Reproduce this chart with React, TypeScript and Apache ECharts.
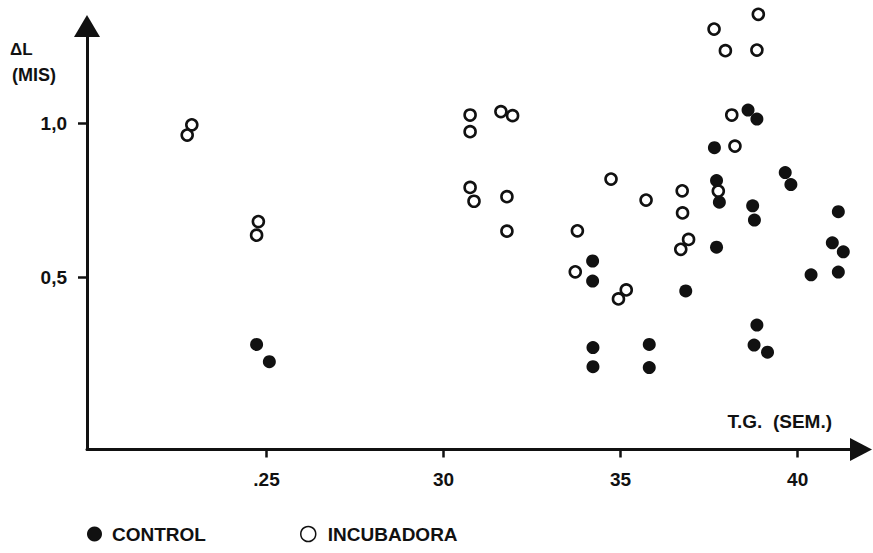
import React, { useEffect, useRef } from "react";
import * as echarts from "echarts";

// Gestational age (weeks) vs ΔL (mm/s)
const controlPoints: [number, number][] = [
  [24.72, 0.281], [25.08, 0.225],
  [34.21, 0.552], [34.21, 0.487], [34.22, 0.271], [34.22, 0.209],
  [35.81, 0.281], [35.81, 0.206],
  [36.84, 0.455],
  [37.65, 0.92], [37.71, 0.813], [37.79, 0.743], [37.71, 0.597],
  [38.6, 1.042], [38.85, 1.013], [38.73, 0.731], [38.78, 0.685],
  [38.85, 0.344], [38.77, 0.279], [39.15, 0.256],
  [39.65, 0.839], [39.81, 0.8],
  [40.38, 0.507],
  [41.15, 0.712], [40.98, 0.611], [41.29, 0.582], [41.15, 0.516],
];

const incubadoraPoints: [number, number][] = [
  [22.89, 0.994], [22.76, 0.961],
  [24.77, 0.68], [24.72, 0.636],
  [30.75, 1.026], [30.75, 0.972], [31.62, 1.037], [31.95, 1.024],
  [30.75, 0.791], [30.86, 0.746], [31.79, 0.761], [31.79, 0.649],
  [33.78, 0.65], [33.72, 0.517],
  [34.73, 0.818], [35.72, 0.75], [35.16, 0.458], [34.94, 0.429],
  [36.74, 0.78], [36.75, 0.708], [36.92, 0.622], [36.7, 0.59],
  [37.76, 0.779], [37.64, 1.305], [37.96, 1.235], [38.89, 1.353], [38.85, 1.237],
  [38.14, 1.026], [38.23, 0.925],
];

const xTicks = [25, 30, 35, 40];
const xTickLabels = [".25", "30", "35", "40"];
const yTicks = [0.5, 1.0];
const yTickLabels = ["0,5", "1,0"];

const seriesNames = ["CONTROL", "INCUBADORA"];
const FONT = '"Liberation Sans", Arial, Helvetica, sans-serif';
const INK = "#111111";

export default function App() {
  const ref = useRef<HTMLDivElement>(null);

  useEffect(() => {
    if (!ref.current) return;
    const chart = echarts.init(ref.current, undefined, { renderer: "svg" });
    chart.setOption({
      animation: false,
      backgroundColor: "#ffffff",
      grid: { left: 87, right: 12, top: 26, bottom: 103.5, containLabel: false },
      xAxis: {
        type: "value",
        min: 19.93,
        max: 41.79,
        axisLine: {
          show: true,
          onZero: false,
          lineStyle: { color: INK, width: 3 },
          symbol: ["none", "triangle"],
          symbolSize: [23, 22],
        },
        axisTick: {
          show: true,
          inside: false,
          length: 8,
          customValues: xTicks,
          lineStyle: { color: INK, width: 2.5 },
        },
        axisLabel: {
          show: true,
          customValues: xTicks,
          margin: 20,
          color: INK,
          fontFamily: FONT,
          fontWeight: "bold",
          fontSize: 19,
          formatter: (v: number) => {
            const i = xTicks.findIndex((t) => Math.abs(t - v) < 1e-6);
            return i >= 0 ? xTickLabels[i] : "";
          },
        },
        splitLine: { show: false },
      },
      yAxis: {
        type: "value",
        min: -0.06,
        max: 1.315,
        axisLine: {
          show: true,
          onZero: false,
          lineStyle: { color: INK, width: 3 },
          symbol: ["none", "triangle"],
          symbolSize: [26, 22],
        },
        axisTick: {
          show: true,
          inside: false,
          length: 9,
          customValues: yTicks,
          lineStyle: { color: INK, width: 2.5 },
        },
        axisLabel: {
          show: true,
          customValues: yTicks,
          margin: 20,
          color: INK,
          fontFamily: FONT,
          fontWeight: "bold",
          fontSize: 19,
          formatter: (v: number) => {
            const i = yTicks.findIndex((t) => Math.abs(t - v) < 1e-6);
            return i >= 0 ? yTickLabels[i] : "";
          },
        },
        splitLine: { show: false },
      },
      legend: [
        {
          data: [seriesNames[0]],
          left: 87,
          top: 524.5,
          padding: 0,
          icon: "circle",
          itemWidth: 15,
          itemHeight: 15,
          textStyle: { color: INK, fontFamily: FONT, fontWeight: "bold", fontSize: 19, padding: [0, 0, 0, 5] },
        },
        {
          data: [seriesNames[1]],
          left: 300,
          top: 524.5,
          padding: 0,
          icon: "circle",
          itemWidth: 15,
          itemHeight: 15,
          itemStyle: { borderWidth: 1.5 },
          textStyle: { color: INK, fontFamily: FONT, fontWeight: "bold", fontSize: 19, padding: [0, 0, 0, 7] },
        },
      ],
      graphic: [
        {
          type: "text",
          x: 10,
          y: 49,
          style: { text: "ΔL", fill: INK, font: `bold 17px ${FONT}`, align: "left", verticalAlign: "middle" },
        },
        {
          type: "text",
          x: 12,
          y: 75,
          style: { text: "(MIS)", fill: INK, font: `bold 18px ${FONT}`, align: "left", verticalAlign: "middle" },
        },
        {
          type: "text",
          x: 832,
          y: 421,
          style: { text: "T.G.  (SEM.)", fill: INK, font: `bold 19px ${FONT}`, align: "right", verticalAlign: "middle" },
        },
      ],
      series: [
        {
          name: seriesNames[0],
          type: "scatter",
          clip: false,
          symbol: "circle",
          symbolSize: 13,
          itemStyle: { color: INK, opacity: 1 },
          data: controlPoints,
          z: 3,
        },
        {
          name: seriesNames[1],
          type: "scatter",
          clip: false,
          symbol: "circle",
          symbolSize: 11,
          itemStyle: { color: "rgba(255,255,255,0)", borderColor: INK, borderWidth: 2.6, opacity: 1 },
          data: incubadoraPoints,
          z: 4,
        },
      ],
    });
    return () => chart.dispose();
  }, []);

  return (
    <div
      ref={ref}
      style={{ position: "absolute", left: 0, top: 0, width: 873, height: 553, background: "#fff" }}
    />
  );
}
